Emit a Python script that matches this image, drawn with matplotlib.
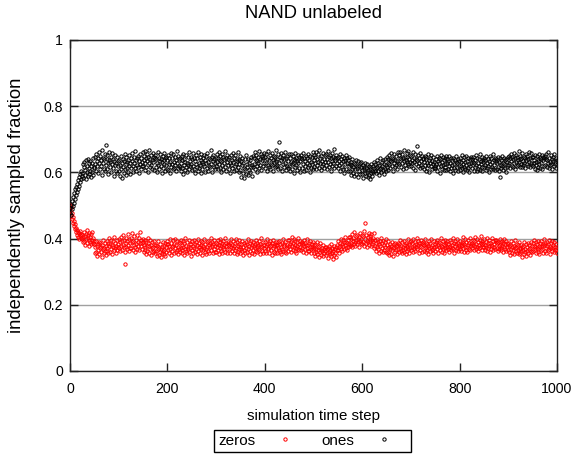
import matplotlib
matplotlib.use("Agg")
import matplotlib.pyplot as plt
import numpy as np

# fraction values per time step, in thousandths
ones_txt = """
478 492 470 501 488 515 497 526 509 538 521 549 533 557 542 566 551 578 560 585 571 594 580 603 589
598 624 583 615 631 592 608 637 579 620 602 641 589 612 627 596 634 605 618 586 629 600 645 593 616
612 648 625 603 657 633 618 642 598 661 627 609 651 620 636 592 668 628 645 611 639 604 655 623 683
641 609 652 627 595 638 663 616 630 647 600 625 659 612 641 588 635 621 654 604 629 646 597 633 618
605 637 590 622 649 611 628 584 641 616 598 633 655 609 624 591 646 613 630 600 638 618 652 596 627
644 612 635 659 620 601 648 628 613 666 637 605 642 623 651 615 634 597 657 626 610 645 631 619 662
620 651 637 608 664 629 645 615 656 633 602 648 627 669 640 617 654 623 638 611 660 631 647 606 644
652 616 639 601 627 663 622 645 610 634 656 619 641 598 630 650 613 637 659 625 604 642 621 648 611
636 607 653 624 645 598 631 660 617 642 625 609 655 632 614 647 621 638 603 665 628 612 649 620 641
615 644 603 629 651 612 638 596 657 623 640 608 632 653 617 627 601 646 621 662 609 635 618 648 624
607 639 658 620 645 611 634 599 652 626 616 643 604 661 629 614 648 622 637 597 655 631 610 642 626
653 618 636 602 649 627 612 658 631 605 644 620 639 615 667 624 647 600 633 652 616 641 609 628 645
619 656 630 609 645 624 663 614 638 651 602 633 657 621 646 610 639 627 666 615 643 604 632 654 623
640 611 648 627 599 654 622 636 613 659 631 605 645 619 652 626 608 641 633 617 662 600 637 624 649
606 633 587 621 645 598 628 614 583 639 610 652 595 626 617 641 592 629 608 637 601 648 616 589 623
650 616 642 625 661 609 638 654 620 633 600 647 629 666 613 641 622 657 606 636 649 618 645 627 660
614 648 629 655 603 640 623 664 617 636 652 610 645 626 659 621 638 604 651 630 615 647 633 668 619
641 622 657 610 693 627 648 613 636 660 605 643 624 653 617 639 629 662 608 645 620 651 614 634 656
618 645 603 632 656 624 611 649 627 640 599 637 658 615 644 621 633 606 652 628 613 646 635 601 642
653 612 639 626 660 604 645 619 634 651 608 628 643 616 657 622 638 602 649 631 614 646 625 663 610
637 654 615 646 628 662 609 641 622 655 631 612 668 627 643 606 649 634 619 658 624 640 613 652 632
621 656 639 610 664 631 647 617 653 626 642 605 659 634 620 648 629 671 612 645 637 618 654 627 643
646 613 635 621 657 604 640 629 615 650 609 633 644 598 638 624 652 611 627 643 603 636 619 648 625
604 631 592 622 611 640 598 617 629 588 625 609 637 596 620 612 634 585 618 603 627 594 615 632 607
595 622 583 609 617 598 629 590 612 601 624 586 607 619 593 615 580 611 626 597 605 588 620 602 614
630 605 626 612 597 638 616 603 629 591 621 609 642 614 600 632 618 607 636 595 625 611 640 604 622
615 647 628 640 606 653 624 636 612 658 633 619 645 603 641 627 655 616 637 622 650 609 634 661 628
652 624 645 661 617 639 628 656 609 643 634 667 621 648 637 612 659 630 646 625 664 618 641 653 632
619 650 638 627 661 614 645 632 655 608 641 626 679 636 620 652 629 644 613 658 633 623 649 616 640
643 610 632 651 621 639 604 646 627 614 655 622 637 600 645 629 618 652 609 635 626 648 613 631 620
612 639 624 650 603 633 617 645 627 598 641 620 654 611 630 622 647 606 636 615 643 625 608 649 628
640 610 633 618 651 604 627 642 612 636 621 599 645 626 614 638 607 631 650 616 628 603 641 619 634
608 643 620 632 612 654 625 601 638 617 646 609 630 623 650 606 635 614 642 624 600 639 618 647 629
641 613 632 648 605 627 637 616 652 621 603 643 628 611 639 620 656 608 634 625 615 647 604 630 637
615 645 622 638 606 651 628 613 640 619 633 602 649 624 611 644 630 617 655 609 636 621 642 607 633
639 610 627 648 616 632 604 643 585 622 637 612 651 619 628 606 645 624 613 636 601 641 617 630 648
622 651 628 643 612 657 634 620 648 615 639 660 627 645 609 652 631 619 646 636 623 666 630 641 617
650 624 642 615 659 633 621 648 628 645 612 655 637 624 651 619 640 632 663 616 643 627 658 621 646
619 646 627 638 611 653 630 622 649 607 641 633 616 657 625 644 613 639 628 652 610 636 647 620 642
649 621 640 655 617 636 628 661 612 645 630 622 653 626 641 609 648 634 619 657 632 625 644 614 638
"""

zeros_txt = """
502 486 495 471 478 459 466 448 452 437 445 428 433 419 426 412 421 405 417 399 411 424 403 415 398
412 389 405 421 394 408 382 415 399 426 387 403 410 378 397 418 391 406 384 413 395 420 386 401 392
385 356 374 392 361 379 348 383 366 390 352 372 387 359 376 345 381 368 395 357 373 362 388 350 377
364 393 372 355 387 378 401 361 384 369 397 352 381 375 392 366 405 371 386 358 379 396 367 383 374
398 371 389 364 405 378 393 367 382 410 374 396 360 323 387 401 376 368 392 415 380 363 399 386 371
372 402 389 418 366 394 380 407 375 361 397 384 412 370 391 378 403 365 388 421 377 395 369 386 400
389 360 381 397 366 374 352 391 378 363 386 402 357 377 368 395 349 382 371 389 359 376 393 364 380
355 381 362 347 378 369 392 351 373 360 385 344 370 376 356 389 364 352 379 367 387 348 374 361 383
393 366 385 358 379 400 369 350 388 374 362 396 377 355 384 371 398 360 381 367 392 354 376 389 370
361 388 372 397 355 380 366 392 374 351 386 369 401 363 378 357 390 375 368 395 359 383 371 348 384
392 367 379 356 396 373 385 361 389 370 353 382 399 364 376 387 358 374 394 369 381 351 390 377 365
372 398 361 384 370 352 389 376 393 363 380 357 386 374 401 366 379 391 355 383 369 395 360 378 387
360 385 374 396 366 381 353 389 371 399 364 377 386 356 392 375 368 382 403 361 379 388 370 357 384
391 369 382 356 387 374 398 362 380 371 394 358 378 386 365 400 373 352 389 377 361 384 395 368 376
358 384 370 393 362 376 349 387 366 380 355 390 372 361 383 398 369 351 378 386 364 375 392 357 381
389 365 379 354 385 372 397 363 376 388 359 381 370 394 367 352 384 378 401 362 374 390 356 380 371
364 391 377 358 383 399 368 372 386 355 379 392 365 381 350 388 373 396 361 377 384 357 390 370 382
380 355 389 372 366 394 361 383 376 352 387 369 398 364 378 385 359 391 371 357 382 374 396 363 379
395 370 384 361 391 378 405 367 386 374 398 363 381 393 372 358 389 377 402 369 383 366 394 376 388
366 391 373 384 359 396 378 369 387 355 382 371 399 364 380 388 362 376 393 370 357 385 374 390 368
380 355 372 348 384 361 369 390 352 374 365 343 377 359 386 367 350 373 362 381 346 369 358 376 363
349 375 358 368 341 371 360 379 352 365 383 346 370 356 373 339 362 377 351 368 355 374 343 366 380
366 393 375 358 387 379 400 370 384 362 395 377 389 368 404 381 372 391 365 386 397 374 383 406 378
405 381 398 387 413 376 394 402 385 419 390 378 408 396 383 411 389 400 374 406 393 416 387 399 412
384 407 390 422 379 446 398 386 411 393 375 404 389 416 381 400 392 408 377 413 395 385 403 390 418
371 395 378 386 364 399 375 390 368 383 356 392 377 401 362 387 372 359 394 380 366 389 374 398 361
382 357 373 392 361 376 350 385 368 379 354 390 366 372 347 384 374 360 388 365 377 353 381 369 386
359 384 371 395 363 378 389 356 376 366 393 361 380 371 352 387 374 382 364 398 369 358 385 372 390
367 393 376 386 360 398 379 371 389 364 384 375 402 369 381 393 357 388 377 366 395 374 386 361 383
390 364 382 373 398 359 376 388 367 384 353 379 393 371 362 387 376 399 365 381 370 357 392 374 385
362 389 377 396 368 382 355 391 374 366 387 379 401 360 376 393 370 384 358 381 372 395 367 388 376
393 368 385 374 360 397 377 389 366 381 372 403 370 386 357 392 379 365 384 399 371 362 388 376 382
369 394 378 363 390 381 405 372 386 359 383 376 398 367 389 374 361 395 380 370 387 402 366 384 377
388 371 396 380 365 392 378 404 369 385 374 399 362 390 381 371 397 376 386 407 366 383 393 375 388
374 398 381 367 390 376 403 364 387 372 395 379 360 388 382 370 401 377 393 366 385 374 396 369 389
395 373 386 362 391 377 368 398 381 371 389 365 394 379 359 387 376 400 370 384 363 392 374 388 367
385 360 377 350 381 369 392 357 374 365 388 352 379 371 395 362 376 384 358 380 366 390 354 373 369
356 381 363 374 345 378 367 389 352 370 361 383 348 375 364 386 357 369 380 350 372 362 391 359 377
386 363 379 396 368 375 357 390 372 383 361 394 370 379 353 388 374 365 392 377 369 384 358 381 398
364 387 372 356 391 378 366 383 397 369 375 352 386 371 393 362 380 374 359 389 376 367 385 370 358
"""

ones = np.array(ones_txt.split(), dtype=float) / 1000
zeros = np.array(zeros_txt.split(), dtype=float) / 1000

title = "NAND unlabeled"
xlabel = "simulation time step"
ylabel = "independently sampled fraction"
xticks = [0, 200, 400, 600, 800, 1000]
yticks = [0, 0.2, 0.4, 0.6, 0.8, 1]
ytick_labels = ["0", "0.2", "0.4", "0.6", "0.8", "1"]

plt.rcParams["font.family"] = ["Liberation Sans", "DejaVu Sans"]

fig = plt.figure(figsize=(5.73, 4.57), dpi=100)
ax = fig.add_axes([70 / 573, 1 - 371 / 457, 487 / 573, 331 / 457])

ax.plot(np.arange(len(zeros)), zeros, "o", ms=2.4, mfc="none", mec="#ff0000",
        mew=0.7, label="zeros", zorder=3)
ax.plot(np.arange(len(ones)), ones, "o", ms=2.4, mfc="none", mec="black",
        mew=0.7, label="ones", zorder=3)

ax.set_xlim(0, 1000)
ax.set_ylim(0, 1)
ax.set_xticks(xticks)
ax.set_yticks(yticks)
ax.set_yticklabels(ytick_labels)
ax.yaxis.grid(True, color="#a0a0a0", lw=1)
ax.set_axisbelow(True)
ax.tick_params(direction="in", length=6, width=1, top=True, right=True,
               labelsize=10.2, color="#222222")
ax.tick_params(axis="x", pad=8)
ax.tick_params(axis="y", pad=5)
for s in ax.spines.values():
    s.set_color("#222222")
    s.set_linewidth(1)

ax.set_title(title, fontsize=13.2, pad=15.5)
ax.set_xlabel(xlabel, fontsize=10.8, labelpad=9)
ax.set_ylabel(ylabel, fontsize=13.3, labelpad=13)

leg = ax.legend(loc="upper center", bbox_to_anchor=(312.5 / 573, 1 - 430 / 457),
                bbox_transform=fig.transFigure, ncol=2, markerfirst=False,
                fontsize=11, frameon=True, fancybox=False, framealpha=1,
                edgecolor="black", borderaxespad=0, handlelength=3.0,
                handletextpad=0.44, columnspacing=0.9, borderpad=0.25)
leg.get_frame().set_linewidth(1)

fig.savefig("out.png", dpi=100)
